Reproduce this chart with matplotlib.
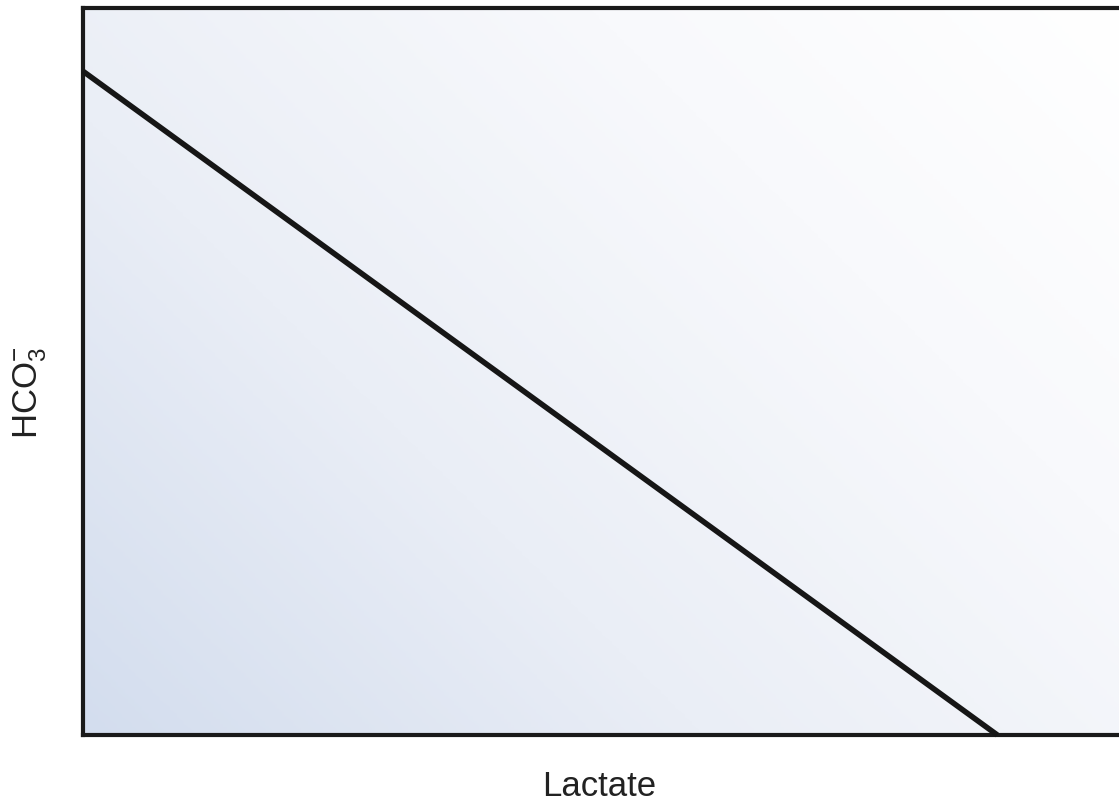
import numpy as np
import matplotlib
matplotlib.use("Agg")
import matplotlib.pyplot as plt
from matplotlib.colors import LinearSegmentedColormap

# bicarbonate falls linearly as lactate rises
lactate = [0.0, 8.8]
hco3 = [9.13, 0.0]

xlabel = "Lactate"
ylabel = r"HCO$_3^{-}$"

plt.rcParams['font.family'] = ['Liberation Sans', 'DejaVu Sans']
plt.rcParams['mathtext.fontset'] = 'custom'
plt.rcParams['mathtext.rm'] = 'Liberation Sans'
plt.rcParams['mathtext.it'] = 'Liberation Sans'

fig = plt.figure(figsize=(11.19, 8.03), dpi=100)
W, H = 1119, 803
left, right, top, bottom = 83, 1122, 9, 736
ax = fig.add_axes([left / W, 1 - bottom / H, (right - left) / W, (bottom - top) / H])
ax.set_xlim(0, 10)
ax.set_ylim(0, 10)

# diagonal background wash, blue at lower left fading to white
cmap = LinearSegmentedColormap.from_list(
    "wash", [(0.0, "#d3ddee"), (0.35, "#eaeef6"), (0.7, "#f8f9fc"), (1.0, "#ffffff")])
gx, gy = np.meshgrid(np.linspace(0, 1, 300), np.linspace(0, 1, 300))
grad = (gx * 1.0 + gy * 0.7) / 1.7
ax.imshow(grad, extent=[0, 10, 0, 10], origin="lower", cmap=cmap,
          aspect="auto", zorder=0, interpolation="bilinear")

ax.plot(lactate, hco3, color="#161616", lw=4.0, solid_capstyle="butt", zorder=3, clip_on=False)

for s in ax.spines.values():
    s.set_linewidth(3.0)
    s.set_color("#1a1a1a")
ax.set_xticks([])
ax.set_yticks([])

fig.text(599 / W, 1 - 787 / H, xlabel, ha="center", va="center", fontsize=25, color="#222222")
fig.text(30 / W, 1 - 393 / H, ylabel, ha="center", va="center", fontsize=25,
         rotation=90, color="#222222")

fig.savefig("out.png", dpi=100)
